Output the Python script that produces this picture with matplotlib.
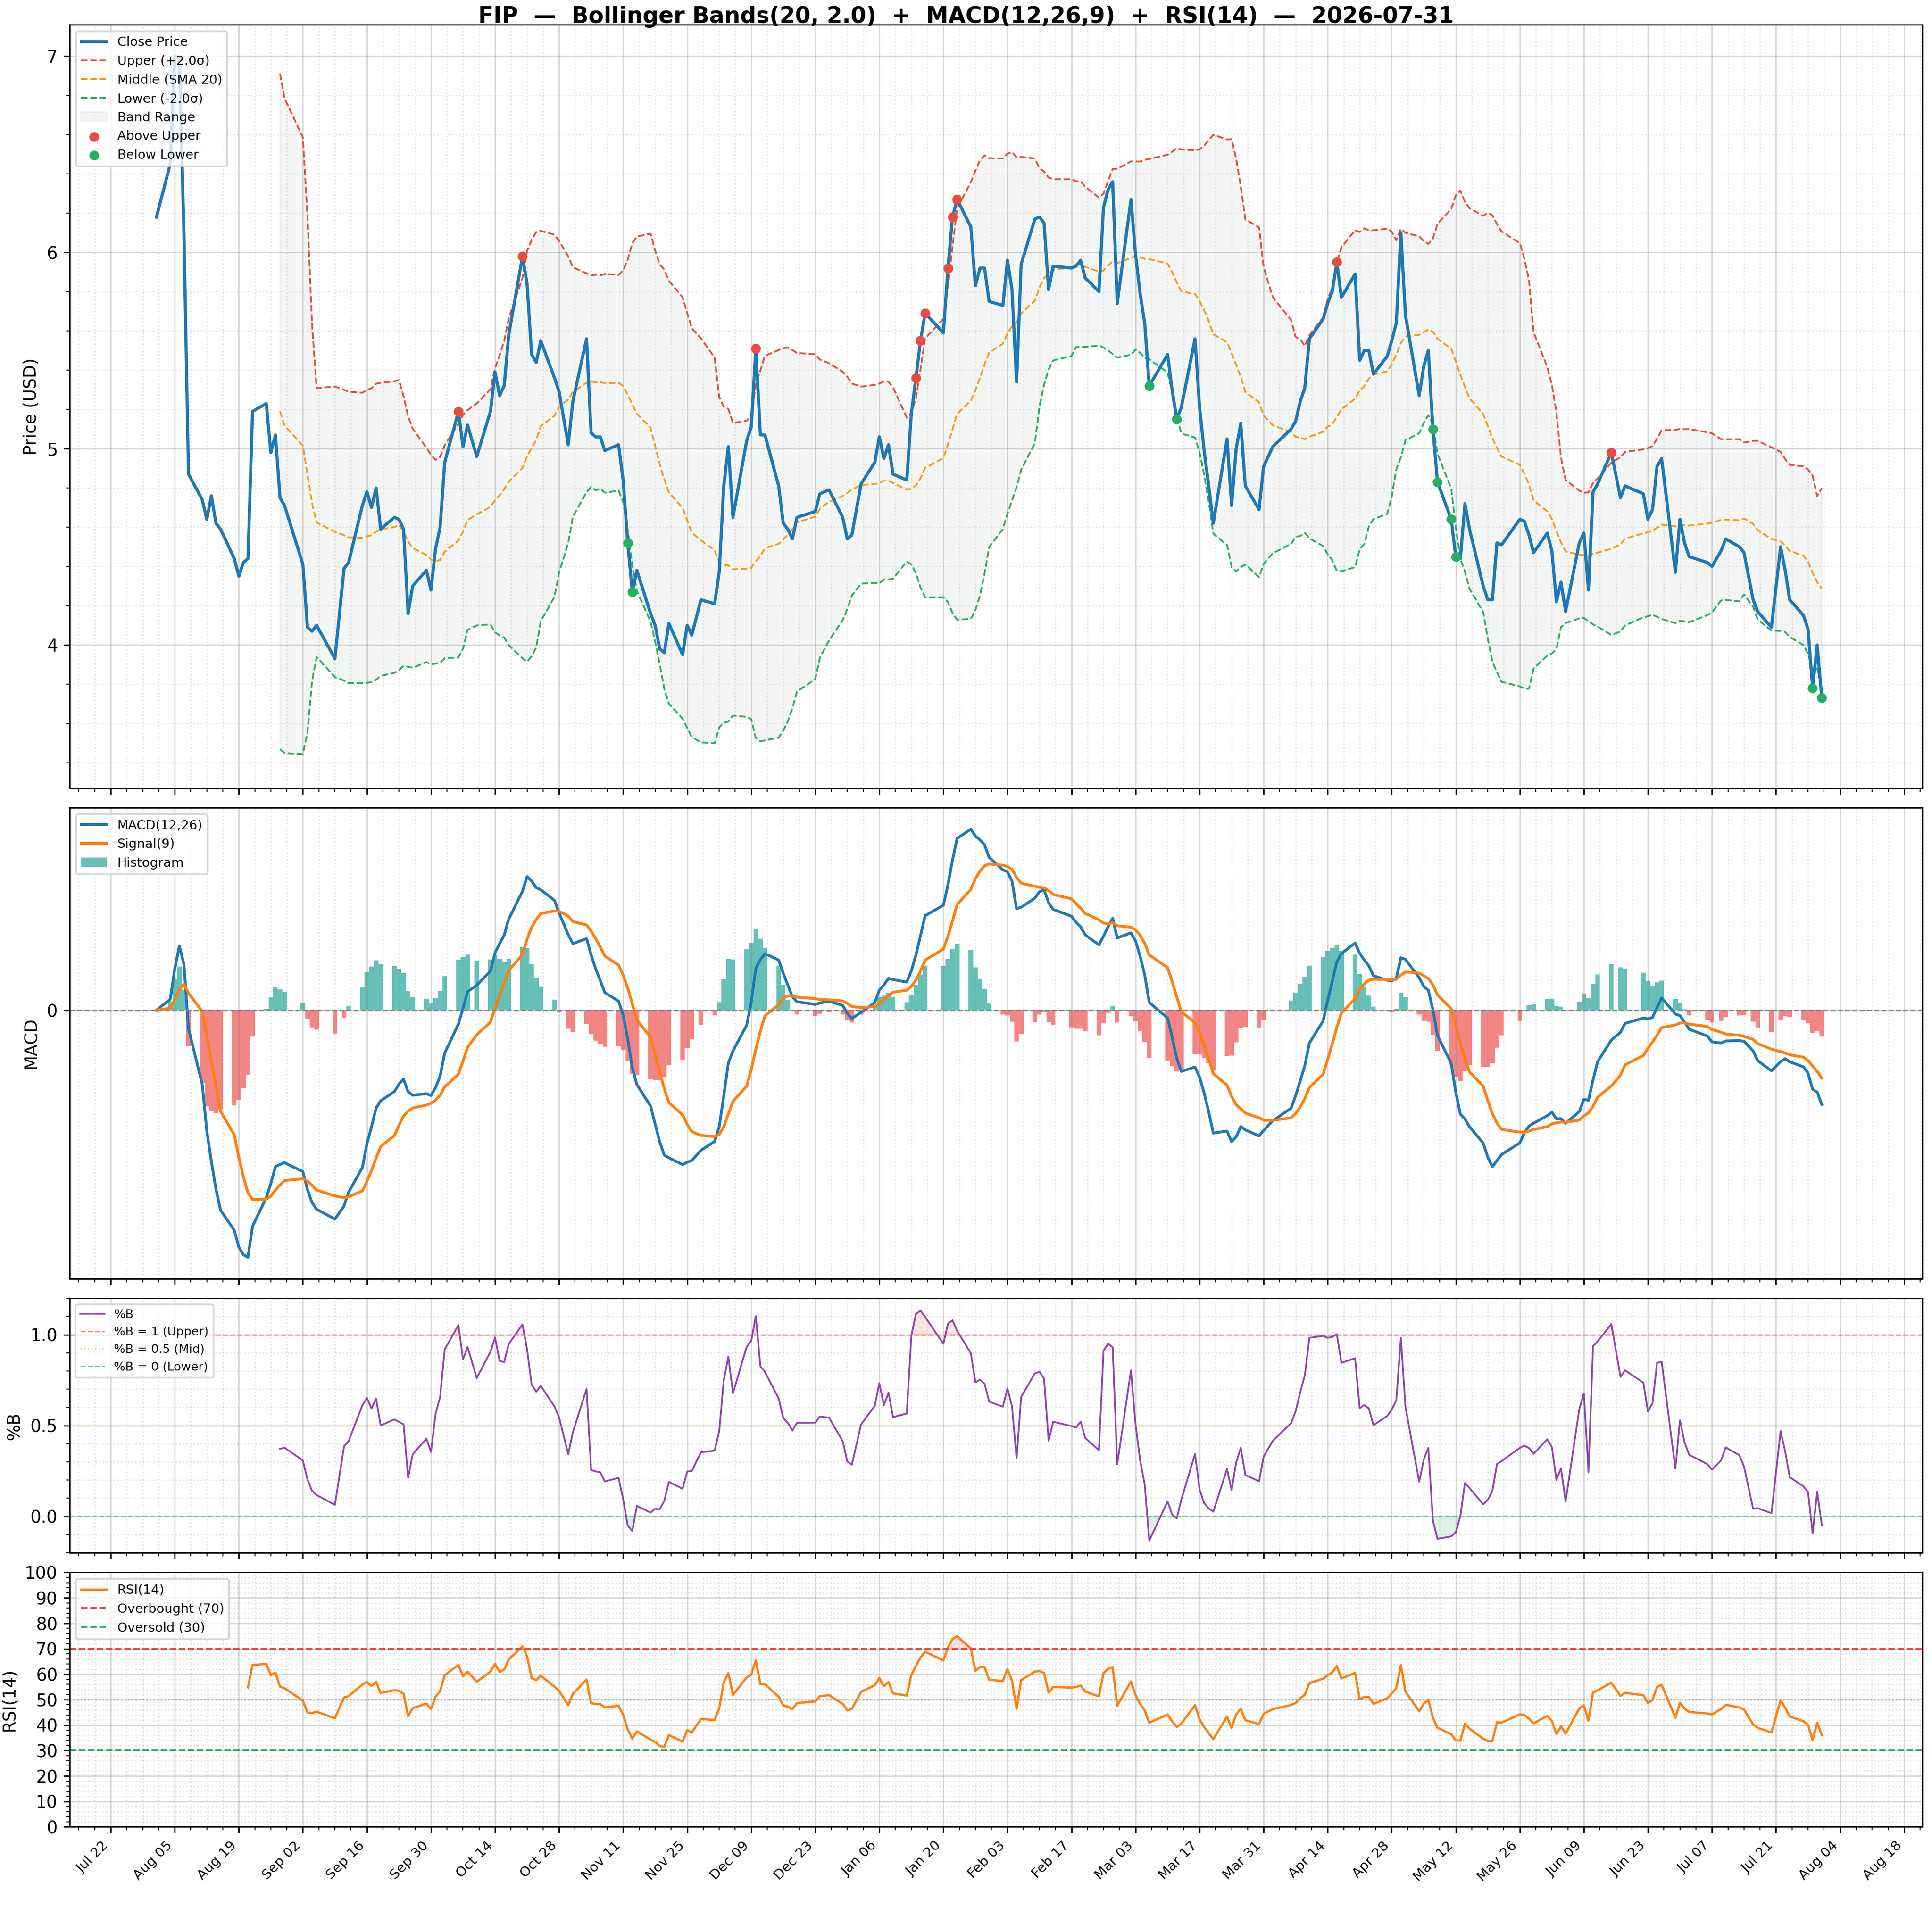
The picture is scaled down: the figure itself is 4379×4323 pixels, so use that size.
import numpy as np
import pandas as pd
import matplotlib
matplotlib.use("Agg")
import matplotlib.pyplot as plt
import matplotlib.dates as mdates
from matplotlib.ticker import MultipleLocator

# ── data: days after 2025-08-05 and closing prices ──
day_offsets = [
    -4, -1, 0, 1, 2, 3, 6, 7, 8, 9,
    10, 13, 14, 15, 16, 17, 20, 21, 22, 23,
    24, 28, 29, 30, 31, 35, 37, 38, 41, 42,
    43, 44, 45, 48, 49, 50, 51, 52, 55, 56,
    57, 58, 59, 62, 63, 64, 66, 69, 70, 71,
    72, 73, 76, 77, 78, 79, 80, 83, 84, 86,
    87, 90, 91, 92, 93, 94, 97, 98, 99, 100,
    101, 104, 105, 106, 107, 108, 111, 112, 113, 115,
    118, 119, 120, 121, 122, 125, 126, 127, 128, 129,
    132, 133, 134, 135, 136, 140, 141, 143, 146, 147,
    148, 150, 153, 154, 155, 156, 157, 160, 161, 162,
    163, 164, 168, 169, 170, 171, 174, 175, 176, 177,
    178, 181, 182, 183, 184, 185, 188, 189, 190, 191,
    192, 196, 197, 198, 199, 202, 203, 204, 205, 206,
    209, 210, 211, 212, 213, 217, 218, 219, 220, 223,
    224, 225, 226, 227, 230, 231, 232, 233, 234, 237,
    238, 240, 244, 245, 246, 247, 248, 251, 252, 253,
    254, 255, 258, 259, 260, 261, 262, 265, 266, 267,
    268, 269, 272, 273, 274, 275, 276, 279, 280, 281,
    282, 283, 286, 287, 288, 289, 290, 294, 295, 296,
    297, 300, 301, 302, 303, 304, 307, 308, 309, 310,
    311, 314, 316, 317, 321, 322, 323, 324, 325, 328,
    329, 330, 331, 335, 336, 338, 339, 342, 343, 345,
    346, 349, 351, 352, 353, 356, 357, 358, 359, 360,
]
close_prices = [
    6.18, 6.45, 7.00, 6.99, 6.10, 4.87, 4.74, 4.64, 4.76, 4.62,
    4.59, 4.44, 4.35, 4.42, 4.44, 5.19, 5.23, 4.98, 5.07, 4.75,
    4.71, 4.41, 4.09, 4.07, 4.10, 3.93, 4.39, 4.42, 4.71, 4.78,
    4.70, 4.80, 4.59, 4.65, 4.64, 4.59, 4.16, 4.30, 4.38, 4.28,
    4.49, 4.60, 4.93, 5.19, 5.01, 5.12, 4.96, 5.19, 5.39, 5.27,
    5.32, 5.58, 5.98, 5.84, 5.48, 5.44, 5.55, 5.36, 5.29, 5.02,
    5.24, 5.56, 5.08, 5.06, 5.06, 4.99, 5.02, 4.84, 4.52, 4.27,
    4.38, 4.16, 4.10, 3.98, 3.96, 4.11, 3.95, 4.10, 4.05, 4.23,
    4.21, 4.37, 4.81, 5.01, 4.65, 5.04, 5.11, 5.51, 5.07, 5.07,
    4.81, 4.62, 4.59, 4.54, 4.65, 4.68, 4.77, 4.79, 4.65, 4.54,
    4.56, 4.82, 4.93, 5.06, 4.95, 5.02, 4.87, 4.84, 5.18, 5.36,
    5.55, 5.69, 5.59, 5.92, 6.18, 6.27, 6.13, 5.83, 5.92, 5.92,
    5.75, 5.73, 5.96, 5.81, 5.34, 5.94, 6.17, 6.18, 6.15, 5.81,
    5.93, 5.92, 5.93, 5.96, 5.87, 5.80, 6.23, 6.32, 6.36, 5.74,
    6.27, 5.99, 5.79, 5.64, 5.32, 5.48, 5.30, 5.15, 5.21, 5.56,
    5.21, 4.99, 4.81, 4.62, 5.05, 4.71, 5.00, 5.13, 4.81, 4.69,
    4.91, 5.01, 5.10, 5.14, 5.24, 5.31, 5.56, 5.66, 5.74, 5.80,
    5.95, 5.77, 5.89, 5.45, 5.50, 5.50, 5.38, 5.47, 5.55, 5.64,
    6.10, 5.68, 5.27, 5.42, 5.50, 5.10, 4.83, 4.64, 4.45, 4.44,
    4.72, 4.59, 4.30, 4.23, 4.23, 4.52, 4.51, 4.64, 4.63, 4.56,
    4.47, 4.57, 4.48, 4.22, 4.32, 4.17, 4.52, 4.57, 4.28, 4.78,
    4.82, 4.98, 4.75, 4.81, 4.77, 4.64, 4.69, 4.91, 4.95, 4.37,
    4.64, 4.52, 4.45, 4.42, 4.40, 4.48, 4.54, 4.50, 4.47, 4.23,
    4.17, 4.09, 4.50, 4.38, 4.23, 4.15, 4.08, 3.78, 4.00, 3.73,
]
assert len(day_offsets) == len(close_prices)

ticker = "FIP"
bb_window, bb_k = 20, 2.0

dates = pd.Timestamp("2025-08-05") + pd.to_timedelta(day_offsets, unit="D")
close = pd.Series(close_prices, index=dates)

# ── indicators ──
mid = close.rolling(bb_window).mean()
std = close.rolling(bb_window).std()
upper = mid + bb_k * std
lower = mid - bb_k * std
pct_b = (close - lower) / (upper - lower)

ema12 = close.ewm(span=12, adjust=False).mean()
ema26 = close.ewm(span=26, adjust=False).mean()
macd = ema12 - ema26
signal = macd.ewm(span=9, adjust=False).mean()
hist = macd - signal

# Wilder smoothing for RSI
delta = close.diff()
gain = delta.clip(lower=0).ewm(alpha=1 / 14, min_periods=14, adjust=False).mean()
loss = (-delta.clip(upper=0)).ewm(alpha=1 / 14, min_periods=14, adjust=False).mean()
rsi = 100 - 100 / (1 + gain / loss)

above = close > upper
below = close < lower

# ── figure ──
fig, axes = plt.subplots(4, 1, figsize=(15.64, 15.44), sharex=True,
                         gridspec_kw={"height_ratios": [3, 1.85, 1, 1]})
fig.subplots_adjust(left=0.036, right=0.995, top=0.987, bottom=0.042, hspace=0.045)
fig.suptitle(f"{ticker}  —  Bollinger Bands(20, 2.0)  +  MACD(12,26,9)  +  RSI(14)  —  2026-07-31",
             fontsize=13, fontweight="bold", y=0.997)

# Price + bands
ax = axes[0]
ax.plot(dates, close, color="#1f77b4", lw=1.8, label="Close Price", zorder=4)
ax.plot(dates, upper, color="#e74c3c", ls="--", lw=1, label="Upper (+2.0σ)")
ax.plot(dates, mid, color="#f39c12", ls="--", lw=1, label="Middle (SMA 20)")
ax.plot(dates, lower, color="#27ae60", ls="--", lw=1, label="Lower (-2.0σ)")
ax.fill_between(dates, lower, upper, color="#95a5a6", alpha=0.1, label="Band Range")
ax.scatter(dates[above], close[above], color="#e74c3c", s=22, zorder=5, label="Above Upper")
ax.scatter(dates[below], close[below], color="#27ae60", s=22, zorder=5, label="Below Lower")
ax.set_ylabel("Price (USD)")
ax.set_ylim(3.27, 7.16)
ax.yaxis.set_major_locator(MultipleLocator(1))
ax.legend(loc="upper left", fontsize=7.5)

# MACD
ax = axes[1]
bar_colors = np.where(hist >= 0, "#26a69a", "#ef5350")
ax.plot(dates, macd, color="#1f77b4", lw=1.6, label="MACD(12,26)")
ax.plot(dates, signal, color="#ff7f0e", lw=1.6, label="Signal(9)")
ax.bar(dates, hist, width=1.0, color=bar_colors, alpha=0.7, label="Histogram")
ax.axhline(0, color="gray", ls="--", lw=0.8)
ax.set_yticks([0])
ax.set_ylabel("MACD")
ax.legend(loc="upper left", fontsize=7.5)

# %B
ax = axes[2]
ax.plot(dates, pct_b, color="#8e44ad", lw=1, label="%B")
ax.axhline(1, color="#e74c3c", ls="--", lw=0.8, alpha=0.7, label="%B = 1 (Upper)")
ax.axhline(0.5, color="#f39c12", ls=":", lw=0.8, alpha=0.5, label="%B = 0.5 (Mid)")
ax.axhline(0, color="#27ae60", ls="--", lw=0.8, alpha=0.7, label="%B = 0 (Lower)")
ax.fill_between(dates, pct_b, 1, where=pct_b > 1, color="#e74c3c", alpha=0.15, interpolate=True)
ax.fill_between(dates, pct_b, 0, where=pct_b < 0, color="#27ae60", alpha=0.15, interpolate=True)
ax.set_ylim(-0.2, 1.2)
ax.set_yticks([0, 0.5, 1.0])
ax.set_ylabel("%B")
ax.legend(loc="upper left", fontsize=7)

# RSI
ax = axes[3]
ax.plot(dates, rsi, color="#ff7f0e", lw=1.3, label="RSI(14)")
ax.axhline(70, color="#e74c3c", ls="--", lw=1, label="Overbought (70)")
ax.axhline(30, color="#27ae60", ls="--", lw=1, label="Oversold (30)")
ax.axhline(50, color="gray", ls=":", lw=0.8)
ax.fill_between(dates, rsi, 70, where=rsi > 70, color="#e74c3c", alpha=0.15, interpolate=True)
ax.fill_between(dates, rsi, 30, where=rsi < 30, color="#27ae60", alpha=0.15, interpolate=True)
ax.set_ylim(0, 100)
ax.set_yticks(range(0, 101, 10))
ax.set_ylabel("RSI(14)")
ax.legend(loc="upper left", fontsize=7.5)

ticks = pd.date_range("2025-07-22", "2026-08-18", freq="14D")
for a in axes:
    a.minorticks_on()
    a.grid(True, which="major", alpha=0.3, color="gray")
    a.grid(True, which="minor", alpha=0.2, ls=":", color="gray")
axes[3].set_xticks(ticks)
axes[3].xaxis.set_major_formatter(mdates.DateFormatter("%b %d"))
axes[3].set_xlim(pd.Timestamp("2025-07-13"), pd.Timestamp("2026-08-22"))
plt.setp(axes[3].get_xticklabels(), rotation=45, ha="right", fontsize=8)

fig.savefig("out.png", dpi=280)
